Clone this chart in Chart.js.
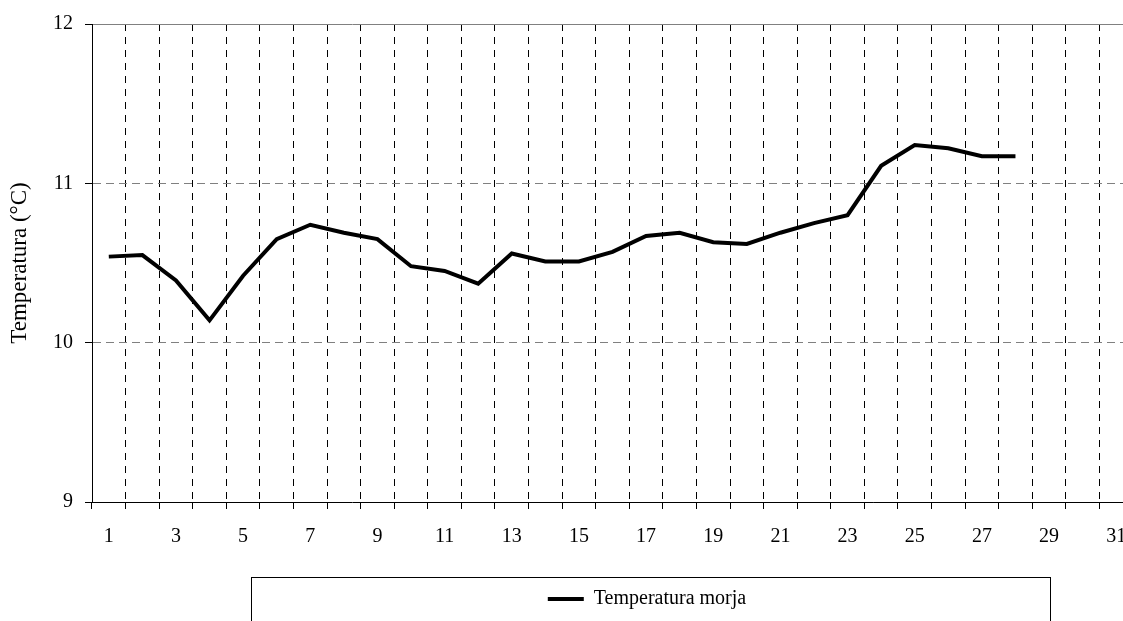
<!DOCTYPE html>
<html>
<head>
<meta charset="utf-8">
<script src="https://cdn.jsdelivr.net/npm/chart.js"></script>
<style>
  html, body { margin: 0; padding: 0; overflow: hidden; background: #fff; }
  canvas { display: block; }
</style>
</head>
<body>
<canvas id="plots" width="1133" height="621"></canvas>
<script>
// days of the month, x-axis
var days = ["1", "2", "3", "4", "5", "6", "7", "8", "9", "10", "11", "12", "13", "14", "15", "16",
            "17", "18", "19", "20", "21", "22", "23", "24", "25", "26", "27", "28", "29", "30", "31"];
// sea temperature per day
var seaTemp = [10.54, 10.55, 10.39, 10.14, 10.42, 10.65, 10.74, 10.69, 10.65, 10.48, 10.45, 10.37, 10.56, 10.51,
               10.51, 10.57, 10.67, 10.69, 10.63, 10.62, 10.69, 10.75, 10.80, 11.11, 11.24, 11.22, 11.17, 11.17];
// y-axis ticks
var yTicks = [9, 10, 11, 12];

Chart.defaults.font.family = "'Liberation Serif', 'Times New Roman', serif";
Chart.defaults.font.size = 20;
Chart.defaults.color = '#000';

// draws the frame round the legend and puts the legend item inside it
var legendFrame = {
    id: 'legendFrame',
    afterLayout: function(chart, args, opts) {
        var lg = chart.legend;
        lg.left = opts.itemLeft;
        lg.right = opts.itemRight;
        lg.width = lg.right - lg.left;
        var h = lg.height;
        lg.top = opts.itemTop;
        lg.bottom = lg.top + h;
    },
    afterDraw: function(chart, args, opts) {
        var ctx = chart.ctx;
        ctx.save();
        ctx.strokeStyle = '#000';
        ctx.lineWidth = 1;
        ctx.strokeRect(opts.left + 0.5, opts.top + 0.5, opts.right - opts.left, 100);
        ctx.restore();
    }
};

plots = document.getElementById("plots");
new Chart(plots, {
    type: 'line',
    data: {
        labels: days,
        datasets: [{
            label: 'Temperatura morja',
            data: seaTemp,
            borderColor: '#000',
            backgroundColor: '#000',
            borderWidth: 4,
            pointRadius: 0,
            tension: 0,
            fill: false,
        }],
    },
    options: {
        responsive: false,
        animation: false,
        layout: {
            padding: { top: 23, left: 0, right: 0, bottom: 0 },
        },
        scales: {
            x: {
                type: 'category',
                offset: true,
                grid: {
                    offset: true,
                    // first line sits on the y axis, leave it to the axis line
                    color: function(ctx) { return ctx.index === 0 ? 'rgba(0,0,0,0)' : '#000'; },
                    lineWidth: 1,
                    tickLength: 7,
                    tickColor: '#000',
                    tickBorderDash: [],
                },
                border: { color: '#000', width: 1, dash: [7, 6] },
                ticks: {
                    autoSkip: false,
                    maxRotation: 0,
                    padding: 16,
                    callback: function(value, index) {
                        return index % 2 === 0 ? days[index] : '';
                    },
                },
                afterFit: function(scale) {
                    scale.height = 79;
                    scale.paddingLeft = 0;
                    scale.paddingRight = 0;
                },
            },
            x2: {
                type: 'category',
                position: 'top',
                offset: true,
                grid: { display: false, drawTicks: false },
                ticks: { display: false },
                border: { color: '#808080', width: 1 },
            },
            y: {
                min: yTicks[0],
                max: yTicks[yTicks.length - 1],
                ticks: { stepSize: 1, padding: 12 },
                grid: {
                    color: '#808080',
                    lineWidth: 1,
                    tickLength: 7,
                    tickColor: '#000',
                    tickBorderDash: [],
                },
                border: { color: '#000', width: 1, dash: [8, 5] },
                title: {
                    display: true,
                    text: 'Temperatura (°C)',
                    font: { size: 23 },
                    padding: { top: 6, bottom: 0 },
                },
                afterFit: function(scale) { scale.width = 92; },
            },
        },
        plugins: {
            legend: {
                position: 'bottom',
                labels: {
                    usePointStyle: true,
                    pointStyle: 'line',
                    pointStyleWidth: 36,
                    padding: 10,
                    font: { size: 20 },
                },
            },
            tooltip: { enabled: false },
            legendFrame: { left: 251, right: 1050, top: 577, itemLeft: 251, itemRight: 1043, itemTop: 579 },
        },
    },
    plugins: [legendFrame],
});
</script>
</body>
</html>
